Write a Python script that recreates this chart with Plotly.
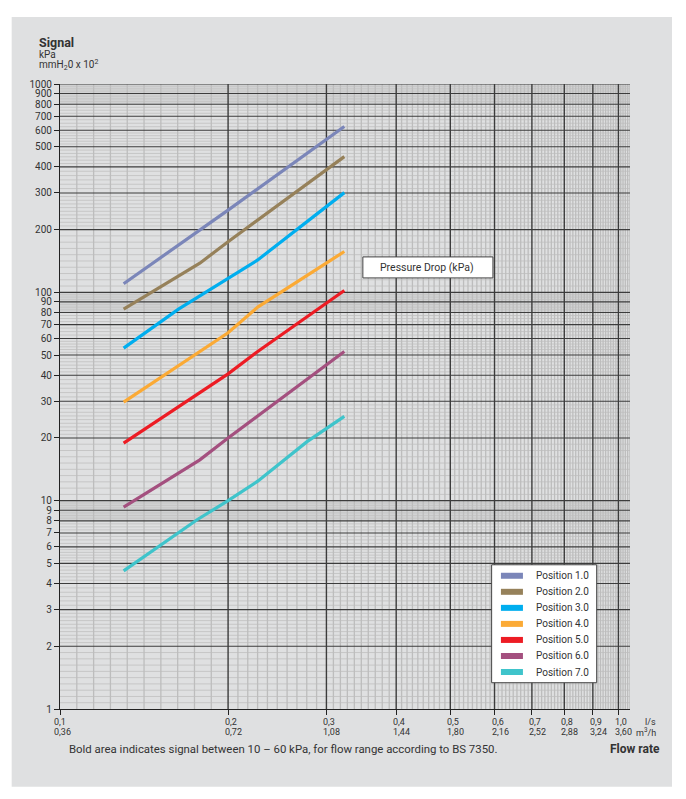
import math
import plotly.graph_objects as go

# ---------------- data ----------------
series_names = ["Position 1.0", "Position 2.0", "Position 3.0", "Position 4.0",
                "Position 5.0", "Position 6.0", "Position 7.0"]
series_colors = ["#7b86b9", "#96815a", "#00aeef", "#fbaa35",
                 "#ed1c24", "#a4507f", "#3fc4cb"]

p1_x = [0.130, 0.200, 0.323]
p1_y = [110, 248, 625]
p2_x = [0.130, 0.178, 0.200, 0.323]
p2_y = [83, 138, 175, 448]
p3_x = [0.130, 0.163, 0.226, 0.323]
p3_y = [54, 83, 143, 301]
p4_x = [0.130, 0.174, 0.200, 0.226, 0.323]
p4_y = [29.7, 50, 64, 85, 157]
p5_x = [0.130, 0.200, 0.226, 0.323]
p5_y = [18.9, 40.6, 52, 102]
p6_x = [0.130, 0.178, 0.200, 0.323]
p6_y = [9.3, 15.7, 20, 52]
p7_x = [0.130, 0.176, 0.200, 0.226, 0.277, 0.323]
p7_y = [4.6, 8.1, 10, 12.4, 19.2, 25.4]

series_x = [p1_x, p2_x, p3_x, p4_x, p5_x, p6_x, p7_x]
series_y = [p1_y, p2_y, p3_y, p4_y, p5_y, p6_y, p7_y]

x_tick_vals = [0.1, 0.2, 0.3, 0.4, 0.5, 0.6, 0.7, 0.8, 0.9, 1.0]
x_tick_ls = ["0,1", "0,2", "0,3", "0,4", "0,5", "0,6", "0,7", "0,8", "0,9", "1,0"]
x_tick_m3h = ["0,36", "0,72", "1,08", "1,44", "1,80", "2,16", "2,52", "2,88", "3,24", "3,60"]

y_tick_vals = [1, 2, 3, 4, 5, 6, 7, 8, 9, 10, 20, 30, 40, 50, 60, 70, 80, 90,
               100, 200, 300, 400, 500, 600, 700, 800, 900, 1000]
y_tick_text = [str(v) for v in y_tick_vals]

X_MAX = 1.049
FONT = "Roboto, 'Open Sans', sans-serif"
TXT = "#333333"

fig = go.Figure()

# ---------------- grid (graph paper) ----------------
def log_subdiv(a, b, n):
    la, lb = math.log10(a), math.log10(b)
    return [10 ** (la + (lb - la) * i / n) for i in range(1, n)]

band_x, band_y = [], []
for d in [1, 10, 100]:
    band_x += [0.1, X_MAX, X_MAX, 0.1, 0.1, None]
    band_y += [8 * d, 8 * d, 10 * d, 10 * d, 8 * d, None]
fig.add_trace(go.Scatter(x=band_x, y=band_y, mode="lines", fill="toself",
                         fillcolor="rgba(0,0,0,0.06)", line=dict(width=0),
                         hoverinfo="skip", showlegend=False))

hx, hy = [], []
for d in [1, 10, 100]:
    for n in range(1, 10):
        k = 10 if n <= 2 else (6 if n <= 5 else 4)
        for v in log_subdiv(n * d, (n + 1) * d, k):
            hx += [0.1, X_MAX, None]
            hy += [v, v, None]
fig.add_trace(go.Scatter(x=hx, y=hy, mode="lines",
                         line=dict(color="#c6c6c6", width=1),
                         hoverinfo="skip", showlegend=False))

vx, vy = [], []
bounds = x_tick_vals + [1.1]
for a, b in zip(bounds[:-1], bounds[1:]):
    for v in log_subdiv(a, b, 10):
        if v < X_MAX:
            vx += [v, v, None]
            vy += [1, 1000, None]
fig.add_trace(go.Scatter(x=vx, y=vy, mode="lines",
                         line=dict(color="#bdbdbd", width=1.3),
                         hoverinfo="skip", showlegend=False))

mx, my = [], []
for v in y_tick_vals[1:]:
    mx += [0.1, X_MAX, None]
    my += [v, v, None]
fig.add_trace(go.Scatter(x=mx, y=my, mode="lines",
                         line=dict(color="#3c3c3c", width=1.1),
                         hoverinfo="skip", showlegend=False))
ux, uy = [], []
for v in x_tick_vals[1:]:
    ux += [v, v, None]
    uy += [1, 1000, None]
fig.add_trace(go.Scatter(x=ux, y=uy, mode="lines",
                         line=dict(color="#3c3c3c", width=1.4),
                         hoverinfo="skip", showlegend=False))

# ---------------- data lines ----------------
for name, col, xs, ys in zip(series_names, series_colors, series_x, series_y):
    fig.add_trace(go.Scatter(x=xs, y=ys, mode="lines", name=name,
                             line=dict(color=col, width=3.2),
                             showlegend=False))

# ---------------- helpers for paper coords ----------------
L, R, T, B = 60.3, 630.0, 84.0, 709.3
def px(x):
    return (x - L) / (R - L)
def py(y):
    return (B - y) / (B - T)

shapes = []
annotations = []

shapes.append(dict(type="rect", xref="paper", yref="paper", layer="below",
                   x0=px(12), x1=px(672), y0=py(787), y1=py(17),
                   fillcolor="#dfe0e1", line=dict(width=0)))

shapes.append(dict(type="rect", xref="paper", yref="paper",
                   x0=px(363), x1=px(493), y0=py(278), y1=py(257),
                   fillcolor="white", line=dict(color="#444", width=1)))
annotations.append(dict(text="Pressure Drop (kPa)", xref="paper", yref="paper",
                        x=px(427), y=py(267.5), showarrow=False,
                        xanchor="center", yanchor="middle",
                        font=dict(family=FONT, size=10.5, color=TXT)))

shapes.append(dict(type="rect", xref="paper", yref="paper",
                   x0=px(491.7), x1=px(596.7), y0=py(683), y1=py(565),
                   fillcolor="white", line=dict(color="#444", width=1)))
for i, (name, col) in enumerate(zip(series_names, series_colors)):
    yc = 576 + 16.05 * i
    shapes.append(dict(type="line", xref="paper", yref="paper",
                       x0=px(501), x1=px(523), y0=py(yc), y1=py(yc),
                       line=dict(color=col, width=6)))
    annotations.append(dict(text=name, xref="paper", yref="paper",
                            x=px(534), y=py(yc), showarrow=False,
                            xanchor="left", yanchor="middle",
                            font=dict(family=FONT, size=10, color=TXT)))

for v, a, b in zip(x_tick_vals, x_tick_ls, x_tick_m3h):
    for txt, yy in [(a, 722.8), (b, 732.5)]:
        annotations.append(dict(text=txt, xref="x", yref="paper",
                                x=math.log10(v), y=py(yy), showarrow=False,
                                xanchor="left", yanchor="middle",
                                xshift=-5 if v > 0.1 else -8,
                                font=dict(family=FONT, size=9, color=TXT)))
annotations.append(dict(text="l/s", xref="paper", yref="paper", x=px(658),
                        y=py(722.8), showarrow=False, xanchor="right",
                        yanchor="middle", font=dict(family=FONT, size=9, color=TXT)))
annotations.append(dict(text="m<sup>3</sup>/h", xref="paper", yref="paper", x=px(658),
                        y=py(732.5), showarrow=False, xanchor="right",
                        yanchor="middle", font=dict(family=FONT, size=9, color=TXT)))

annotations.append(dict(text="Bold area indicates signal between 10 \u2013 60 kPa, for flow range according to BS 7350.",
                        xref="paper", yref="paper", x=px(67), y=py(749),
                        showarrow=False, xanchor="left", yanchor="middle",
                        font=dict(family=FONT, size=11.4, color=TXT)))
annotations.append(dict(text="<b>Flow rate</b>", xref="paper", yref="paper",
                        x=px(662), y=py(749), showarrow=False,
                        xanchor="right", yanchor="middle",
                        font=dict(family=FONT, size=12, color=TXT)))

annotations.append(dict(text="<b>Signal</b>", xref="paper", yref="paper",
                        x=px(37.5), y=py(42.5), showarrow=False,
                        xanchor="left", yanchor="middle",
                        font=dict(family=FONT, size=12.5, color=TXT)))
annotations.append(dict(text="kPa", xref="paper", yref="paper",
                        x=px(37.5), y=py(54), showarrow=False,
                        xanchor="left", yanchor="middle",
                        font=dict(family=FONT, size=10, color=TXT)))
annotations.append(dict(text="mmH<sub>2</sub>0 x 10<sup>2</sup>", xref="paper", yref="paper",
                        x=px(37.5), y=py(65), showarrow=False,
                        xanchor="left", yanchor="middle",
                        font=dict(family=FONT, size=10, color=TXT)))

fig.update_layout(
    width=686, height=799, autosize=False,
    margin=dict(l=60.3, r=686 - 630, t=84, b=799 - 709.3, pad=0),
    paper_bgcolor="white", plot_bgcolor="#e2e2e2",
    shapes=shapes, annotations=annotations, showlegend=False,
)
fig.update_xaxes(type="log", range=[-1, math.log10(X_MAX)],
                 showgrid=False, zeroline=False,
                 showline=True, linecolor="#222", linewidth=1.2,
                 ticks="outside", ticklen=5, tickcolor="#222",
                 tickvals=x_tick_vals, showticklabels=False)
fig.update_yaxes(type="log", range=[0, 3],
                 showgrid=False, zeroline=False,
                 showline=True, linecolor="#222", linewidth=1.2,
                 ticks="outside", ticklen=5, tickcolor="#222",
                 tickvals=y_tick_vals, ticktext=y_tick_text,
                 tickfont=dict(family=FONT, size=10, color=TXT))

fig.write_html("out.html", config={"displayModeBar": False})

# remove default page margin so the figure sits at the window origin
with open("out.html", "r", encoding="utf-8") as f:
    html = f.read()
html = html.replace("<head>", "<head><style>html,body{margin:0;padding:0;overflow:hidden;}</style>", 1)
with open("out.html", "w", encoding="utf-8") as f:
    f.write(html)
